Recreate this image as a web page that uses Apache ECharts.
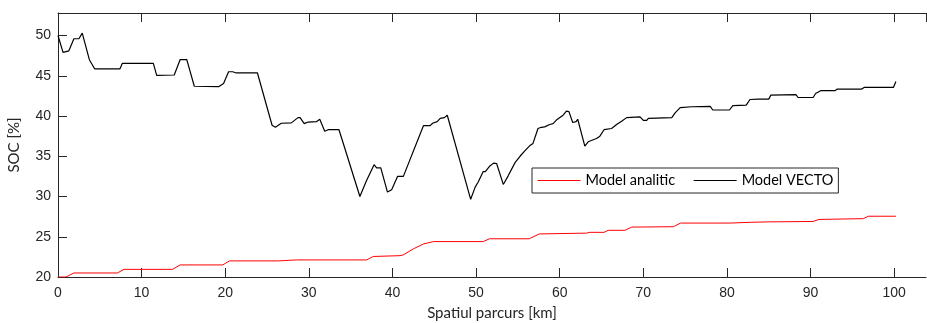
<!DOCTYPE html>
<html>
<head>
<meta charset="utf-8">
<script src="https://cdn.jsdelivr.net/npm/echarts@6/dist/echarts.min.js"></script>
<style>html,body{margin:0;padding:0;background:#fff}#c{width:927px;height:323px}</style>
</head>
<body>
<div id="c"></div>
<script>
var seriesNames = ['Model analitic', 'Model VECTO'];
var xTicks = [0, 10, 20, 30, 40, 50, 60, 70, 80, 90, 100];
var yTicks = [20, 25, 30, 35, 40, 45, 50];

var kmAnalitic = [0, 0.95, 1.9, 7.1, 7.9, 13.7, 14.6, 19.7, 20.5, 26.35, 28.5, 36.9, 37.7, 40.9, 41.3, 42.5, 43.7, 44.9, 50.85, 51.6, 56.35, 57.55, 63.2, 63.6, 65.3, 65.8, 67.8, 68.6, 73.6, 74.45, 80.35, 82.9, 85.1, 90.3, 91.0, 96.3, 96.9, 100.2];
var socAnalitic = [20.0, 20.0, 20.5, 20.5, 20.95, 20.95, 21.5, 21.5, 22.0, 22.0, 22.12, 22.12, 22.55, 22.65, 22.75, 23.5, 24.1, 24.4, 24.4, 24.75, 24.75, 25.35, 25.45, 25.55, 25.55, 25.8, 25.8, 26.2, 26.25, 26.7, 26.7, 26.8, 26.85, 26.9, 27.15, 27.25, 27.55, 27.55];

var kmVecto = [0, 0.6, 1.3, 1.9, 2.5, 2.9, 3.75, 4.4, 7.4, 7.7, 11.4, 11.8, 13.9, 14.6, 15.4, 16.3, 19.2, 19.8, 20.4, 20.9, 21.3, 23.85, 25.6, 26.0, 26.7, 27.9, 28.7, 28.95, 29.45, 29.9, 30.9, 31.3, 31.9, 32.3, 33.6, 34.4, 34.5, 36.1, 36.9, 37.8, 38.1, 38.6, 39.4, 39.9, 40.6, 41.3, 43.7, 44.5, 44.8, 45.35, 45.7, 46.2, 46.55, 49.35, 49.9, 50.25, 50.85, 51.1, 51.6, 52.1, 52.45, 53.25, 53.85, 54.5, 54.65, 55.25, 55.85, 56.4, 56.8, 57.4, 57.8, 58.2, 58.8, 59.2, 59.6, 60.4, 60.8, 61.1, 61.55, 61.95, 62.15, 62.25, 63.0, 63.4, 64.4, 64.8, 65.3, 66.2, 66.8, 67.4, 68.0, 69.6, 70.0, 70.4, 70.6, 73.4, 73.8, 74.0, 74.4, 75.8, 78.0, 78.3, 80.3, 80.7, 82.3, 82.75, 83.7, 85.0, 85.25, 88.25, 88.5, 90.3, 90.6, 91.2, 92.9, 93.2, 96.1, 96.4, 99.9, 100.2];
var socVecto = [50.0, 47.9, 48.1, 49.6, 49.6, 50.3, 47.0, 45.85, 45.85, 46.55, 46.55, 45.05, 45.1, 47.0, 47.0, 43.7, 43.65, 44.05, 45.5, 45.5, 45.35, 45.35, 38.85, 38.6, 39.1, 39.15, 39.8, 39.8, 39.05, 39.25, 39.3, 39.6, 38.1, 38.3, 38.3, 35.65, 35.65, 30.0, 32.0, 33.95, 33.55, 33.55, 30.55, 30.85, 32.5, 32.5, 38.8, 38.8, 39.1, 39.3, 39.7, 39.8, 40.1, 29.65, 31.2, 31.8, 33.1, 33.1, 33.75, 34.15, 34.1, 31.5, 32.6, 33.9, 34.2, 35.0, 35.7, 36.3, 36.6, 38.45, 38.6, 38.65, 38.95, 39.05, 39.5, 40.1, 40.6, 40.55, 39.2, 39.3, 39.6, 39.6, 36.25, 36.8, 37.2, 37.5, 38.3, 38.45, 38.95, 39.35, 39.8, 39.9, 39.45, 39.45, 39.7, 39.8, 40.4, 40.4, 41.05, 41.15, 41.2, 40.75, 40.75, 41.3, 41.35, 42.05, 42.1, 42.1, 42.6, 42.65, 42.3, 42.3, 42.8, 43.15, 43.15, 43.35, 43.35, 43.55, 43.55, 44.3];

function pairs(xs, ys) { return xs.map(function (x, i) { return [x, ys[i]]; }); }

var axisColor = '#262626';
var tickFont = { color: axisColor, fontFamily: 'Liberation Sans', fontSize: 14 };
function xFmt(v) { return xTicks.indexOf(v) >= 0 ? String(v) : ''; }
function yFmt(v) { return yTicks.indexOf(v) >= 0 ? String(v) : ''; }

var chart = echarts.init(document.getElementById('c'), null, { renderer: 'canvas' });
chart.setOption({
  animation: false,
  backgroundColor: '#ffffff',
  grid: { left: 58, top: 13, right: 1, bottom: 46, containLabel: false, outerBoundsMode: 'none' },
  legend: {
    left: 532, top: 168,
    data: seriesNames,
    orient: 'horizontal',
    backgroundColor: '#ffffff',
    borderColor: axisColor, borderWidth: 1, borderRadius: 0,
    padding: [5, 5, 5, 5],
    itemWidth: 43, itemHeight: 14, itemGap: 18,
    itemStyle: { opacity: 0 },
    lineStyle: { width: 1 },
    textStyle: { color: '#000', fontFamily: 'Lato', fontSize: 14.5 }
  },
  xAxis: [{
    type: 'value', position: 'bottom', min: 0, max: 103.8, interval: 10,
    name: 'Spatiul parcurs [km]', nameLocation: 'middle', nameGap: 29,
    nameTextStyle: { color: axisColor, fontFamily: 'Lato', fontSize: 15 },
    axisLine: { show: true, onZero: false, lineStyle: { color: axisColor, width: 1 } },
    axisTick: { show: true, inside: true, length: 9, lineStyle: { color: axisColor } },
    axisLabel: Object.assign({ margin: 9, formatter: xFmt, showMaxLabel: false }, tickFont),
    splitLine: { show: false }
  }, {
    type: 'value', position: 'top', min: 0, max: 103.8, interval: 10,
    axisLine: { show: true, onZero: false, lineStyle: { color: axisColor, width: 1 } },
    axisTick: { show: true, inside: true, length: 9, lineStyle: { color: axisColor } },
    axisLabel: { show: false },
    splitLine: { show: false }
  }],
  yAxis: [{
    type: 'value', min: 20, max: 52.8, interval: 5,
    name: 'SOC [%]', nameLocation: 'middle', nameGap: 36, nameRotate: 90,
    nameTextStyle: { color: axisColor, fontFamily: 'Lato', fontSize: 15 },
    axisLine: { show: true, onZero: false, lineStyle: { color: axisColor, width: 1 } },
    axisTick: { show: true, inside: true, length: 9, lineStyle: { color: axisColor } },
    axisLabel: Object.assign({ margin: 7, formatter: yFmt, showMaxLabel: false }, tickFont),
    splitLine: { show: false }
  }],
  series: [{
    name: seriesNames[0], type: 'line', xAxisIndex: 0,
    data: pairs(kmAnalitic, socAnalitic),
    symbol: 'none', showSymbol: false,
    lineStyle: { color: '#ff0000', width: 1 },
    itemStyle: { color: '#ff0000' }
  }, {
    name: seriesNames[1], type: 'line', xAxisIndex: 0,
    data: pairs(kmVecto, socVecto),
    symbol: 'none', showSymbol: false,
    lineStyle: { color: '#000000', width: 1.2 },
    itemStyle: { color: '#000000' }
  }]
});
</script>
</body>
</html>
